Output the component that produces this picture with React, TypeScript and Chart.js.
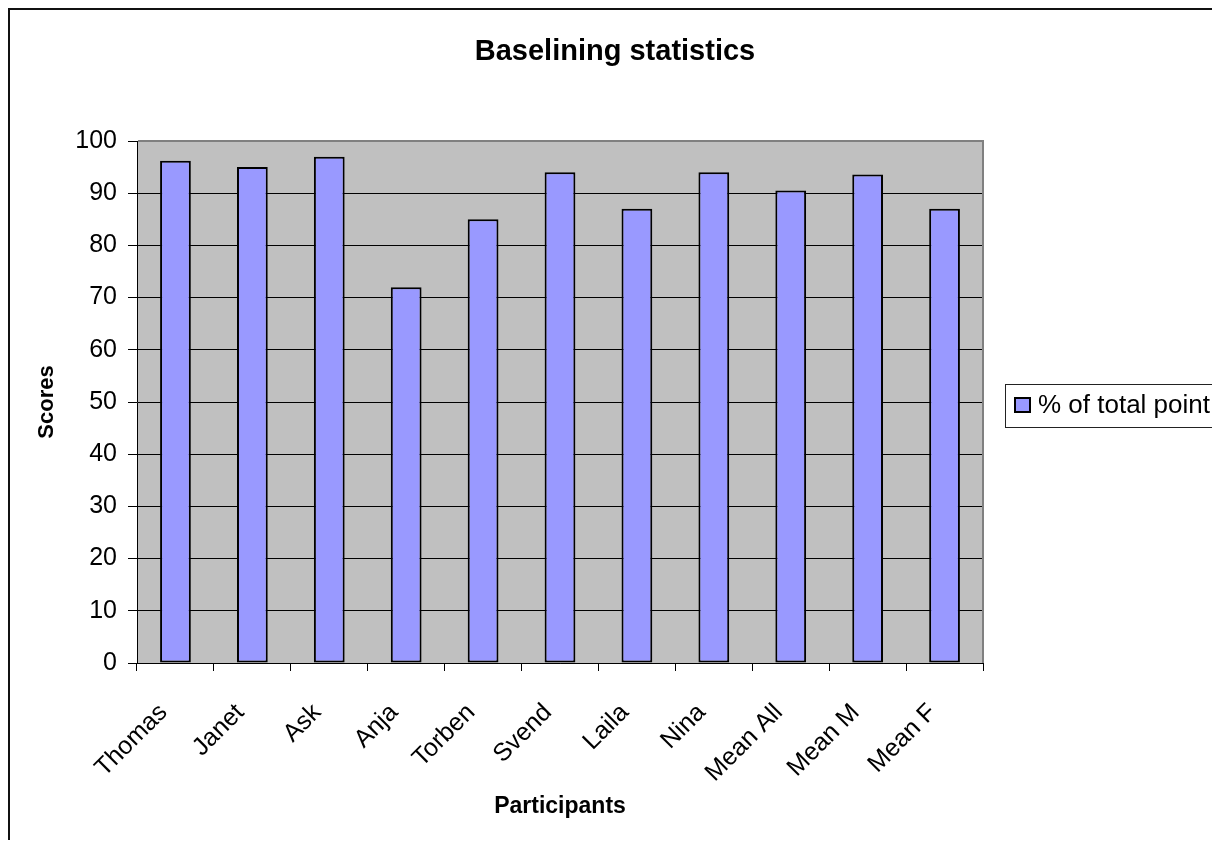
import React, { useEffect, useRef } from "react";
import { Chart, registerables } from "chart.js";

Chart.register(...registerables);

// ---- data ----
const chartTitle = "Baselining statistics";
const xAxisTitle = "Participants";
const yAxisTitle = "Scores";
const seriesLabel = "% of total point";
const categories = [
  "Thomas",
  "Janet",
  "Ask",
  "Anja",
  "Torben",
  "Svend",
  "Laila",
  "Nina",
  "Mean All",
  "Mean M",
  "Mean F",
];
const scores = [96.2, 95, 97, 72, 85, 94, 87, 94, 90.5, 93.6, 87];
const yMin = 0;
const yMax = 100;
const yStep = 10;

const FONT = 'Arial, "Liberation Sans", sans-serif';
const BAR_FILL = "#9999FF";
const PLOT_BG = "#C0C0C0";

const plotBackground = {
  id: "plotBackground",
  beforeDraw(chart: any) {
    const { ctx, chartArea: a } = chart;
    ctx.save();
    ctx.fillStyle = PLOT_BG;
    ctx.fillRect(a.left, a.top, a.right - a.left, a.bottom - a.top);
    ctx.restore();
  },
  beforeDatasetsDraw(chart: any) {
    const { ctx, chartArea: a } = chart;
    ctx.save();
    ctx.strokeStyle = "#808080";
    ctx.lineWidth = 2;
    ctx.beginPath();
    ctx.moveTo(a.left + 1, a.top);
    ctx.lineTo(a.right, a.top);
    ctx.lineTo(a.right, a.bottom);
    ctx.stroke();
    ctx.restore();
  },
};

const boxedLegend = {
  id: "boxedLegend",
  afterDraw(chart: any) {
    const { ctx, chartArea: a } = chart;
    const ds = chart.data.datasets[0];
    const left = a.right + 22;
    const w = 213;
    const h = 43;
    const cy = (a.top + a.bottom) / 2 + 3;
    const top = Math.round(cy - h / 2);
    ctx.save();
    ctx.fillStyle = "#fff";
    ctx.fillRect(left, top, w, h);
    ctx.strokeStyle = "#222";
    ctx.lineWidth = 1;
    ctx.strokeRect(left + 0.5, top + 0.5, w, h);
    // swatch
    const sx = left + 9;
    const sy = Math.round(cy - 8);
    ctx.fillStyle = ds.backgroundColor;
    ctx.fillRect(sx, sy, 17, 16);
    ctx.strokeStyle = "#000";
    ctx.lineWidth = 2;
    ctx.strokeRect(sx + 1, sy + 1, 15, 14);
    // text
    ctx.fillStyle = "#000";
    ctx.font = `26px ${FONT}`;
    ctx.textBaseline = "middle";
    ctx.textAlign = "left";
    ctx.fillText(ds.label, left + 33, cy + 1);
    ctx.restore();
  },
};

export default function App() {
  const ref = useRef<HTMLCanvasElement>(null);

  useEffect(() => {
    document.body.style.overflow = "hidden";
    const canvas = ref.current;
    if (!canvas) return;
    const chart = new Chart(canvas, {
      type: "bar",
      data: {
        labels: categories,
        datasets: [
          {
            label: seriesLabel,
            data: scores,
            backgroundColor: BAR_FILL,
            borderColor: "#000",
            borderWidth: 2,
            borderSkipped: false,
            barPercentage: 0.4,
            categoryPercentage: 1,
          },
        ],
      },
      options: {
        responsive: false,
        animation: false,
        events: [],
        layout: { padding: 0 },
        font: { family: FONT },
        plugins: {
          legend: { display: false },
          tooltip: { enabled: false },
          title: {
            display: true,
            text: chartTitle,
            color: "#000",
            font: { family: FONT, size: 29, weight: "bold" },
            padding: { top: 25, bottom: 71.2 },
          },
        },
        scales: {
          x: {
            type: "category",
            offset: true,
            grid: {
              display: true,
              offset: true,
              drawOnChartArea: false,
              drawTicks: true,
              tickLength: 8,
              color: "#000",
              lineWidth: 1,
            },
            border: { display: true, color: "#000", width: 1 },
            ticks: {
              color: "#000",
              font: { family: FONT, size: 25 },
              minRotation: 45,
              maxRotation: 45,
              autoSkip: false,
              padding: 27,
              labelOffset: -12,
            },
            title: {
              display: true,
              text: xAxisTitle,
              color: "#000",
              font: { family: FONT, size: 23, weight: "bold" },
              padding: { top: 0, bottom: 28 },
            },
            afterFit: (s: any) => {
              s.height = 185;
            },
          },
          y: {
            type: "linear",
            position: "left",
            min: yMin,
            max: yMax,
            grid: {
              color: "#000",
              lineWidth: 1,
              drawTicks: true,
              tickLength: 9,
            },
            border: { display: true, color: "#000", width: 1 },
            ticks: {
              stepSize: yStep,
              color: "#000",
              font: { family: FONT, size: 25 },
              padding: 11,
            },
            title: {
              display: true,
              text: yAxisTitle,
              color: "#000",
              font: { family: FONT, size: 22, weight: "bold" },
              padding: { top: 24, bottom: 0 },
            },
            afterFit: (s: any) => {
              s.width = 127;
            },
          },
          legendSpace: {
            type: "linear",
            position: "right",
            display: true,
            grid: { display: false, drawTicks: false },
            border: { display: false },
            ticks: { display: false },
            afterFit: (s: any) => {
              s.width = 237;
            },
          },
        },
      },
      plugins: [plotBackground, boxedLegend],
    } as any);
    return () => chart.destroy();
  }, []);

  return (
    <div
      style={{
        width: 1212,
        height: 840,
        marginBottom: -8,
        boxSizing: "border-box",
        borderLeft: "2px solid #111",
        borderTop: "2px solid #111",
        background: "#fff",
      }}
    >
      <canvas
        ref={ref}
        width={1210}
        height={838}
        style={{ display: "block", width: 1210, height: 838 }}
      />
    </div>
  );
}
